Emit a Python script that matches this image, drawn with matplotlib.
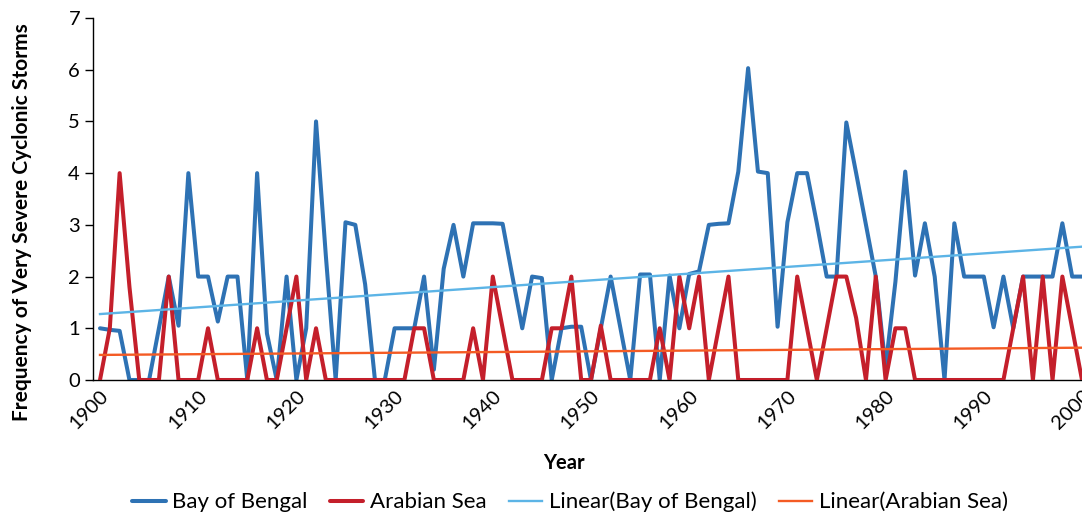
import numpy as np
import matplotlib
matplotlib.use("Agg")
import matplotlib.pyplot as plt

plt.rcParams["font.family"] = ["Lato", "DejaVu Sans"]

years = list(range(1900, 2001))

bay_of_bengal = [
    1.0, 0.97, 0.95, 0, 0, 0, 1.0, 2.0, 1.05, 4.0,
    2.0, 2.0, 1.13, 2.0, 2.0, 0, 4.0, 0.9, 0, 2.0,
    0, 1.0, 5.0, 2.4, 0, 3.05, 3.0, 1.85, 0, 0,
    1.0, 1.0, 1.0, 2.0, 0.2, 2.15, 3.0, 2.0, 3.03, 3.03,
    3.03, 3.02, 2.0, 1.0, 2.0, 1.97, 0, 1.0, 1.03, 1.03,
    0, 1.0, 2.0, 1.0, 0, 2.04, 2.04, 0, 2.02, 1.0,
    2.05, 2.1, 3.0, 3.02, 3.03, 4.03, 6.03, 4.03, 4.0, 1.03,
    3.05, 4.0, 4.0, 3.03, 2.0, 2.0, 4.98, 4.0, 3.0, 2.0,
    0.25, 1.9, 4.03, 2.02, 3.03, 2.0, 0, 3.03, 2.0, 2.0,
    2.0, 1.02, 2.0, 1.0, 2.0, 2.0, 2.0, 2.0, 3.03, 2.0,
    2.0,
]

arabian_sea = [
    0, 1, 4, 1.8, 0, 0, 0, 2, 0, 0,
    0, 1, 0, 0, 0, 0, 1, 0, 0, 1,
    2, 0, 1, 0, 0, 0, 0, 0, 0, 0,
    0, 0, 1, 1, 0, 0, 0, 0, 1, 0,
    2, 1, 0, 0, 0, 0, 1, 1, 2, 0,
    0, 1.05, 0, 0, 0, 0, 0, 1, 0, 2,
    1, 2, 0, 1, 2, 0, 0, 0, 0, 0,
    0, 2, 1, 0, 1, 2, 2, 1.2, 0, 2,
    0, 1, 1, 0, 0, 0, 0, 0, 0, 0,
    0, 0, 0, 1, 2, 0, 2, 0, 2, 1,
    0,
]

series_labels = ["Bay of Bengal", "Arabian Sea",
                 "Linear(Bay of Bengal)", "Linear(Arabian Sea)"]
x_tick_years = list(range(1900, 2001, 10))
y_ticks = list(range(0, 8))

c_bay = "#2E72B4"
c_arab = "#C41F2B"
c_bay_trend = "#5CB4E6"
c_arab_trend = "#F45B24"

x = np.array(years, dtype=float)
bay = np.array(bay_of_bengal)
arab = np.array(arabian_sea)

# least-squares linear trends
bay_fit = np.polyval(np.polyfit(x, bay, 1), x)
arab_fit = np.polyval(np.polyfit(x, arab, 1), x)

W, H = 1082, 514
fig = plt.figure(figsize=(W / 100, H / 100), dpi=100)
ax_left, ax_right, ax_top, ax_bottom = 92.5, 1082, 18, 380
ax = fig.add_axes([ax_left / W, (H - ax_bottom) / H,
                   (ax_right - ax_left) / W, (ax_bottom - ax_top) / H])

lw = 2.9
l1, = ax.plot(x, bay, color=c_bay, lw=lw, solid_joinstyle="round",
              solid_capstyle="round", zorder=2)
l2, = ax.plot(x, arab, color=c_arab, lw=lw, solid_joinstyle="round",
              solid_capstyle="round", zorder=3)
l3, = ax.plot(x, bay_fit, color=c_bay_trend, lw=1.7, zorder=4)
l4, = ax.plot(x, arab_fit, color=c_arab_trend, lw=1.7, zorder=5)

px_per_year = 9.83
ax.set_xlim(1900 - (100 - ax_left) / px_per_year,
            1900 + (ax_right - 100) / px_per_year)
ax.set_ylim(0, 7)

ax.set_xticks(x_tick_years)
ax.set_xticklabels([str(v) for v in x_tick_years], rotation=45,
                   ha="right", va="top", rotation_mode="anchor")
ax.set_yticks(y_ticks)
ax.set_yticklabels([str(v) for v in y_ticks])
ax.tick_params(axis="x", length=0, pad=5, labelsize=14.5)
ax.tick_params(axis="y", length=6, width=1, direction="out", pad=3,
               labelsize=14.5)

for s in ["top", "right"]:
    ax.spines[s].set_visible(False)
for s in ["left", "bottom"]:
    ax.spines[s].set_color("black")
    ax.spines[s].set_linewidth(1.0)

fig.text(22 / W, 1 - 222 / H, "Frequency of Very Severe Cyclonic Storms",
         rotation=90, ha="center", va="center", fontsize=15,
         fontweight="bold")
fig.text(564 / W, 1 - 463 / H, "Year", ha="center", va="center",
         fontsize=14.5, fontweight="bold")

fig.legend([l1, l2, l3, l4], series_labels, loc="center",
           bbox_to_anchor=(570 / W, 1 - 502 / H), ncol=4, frameon=False,
           fontsize=16, handlelength=1.5, handletextpad=0.3,
           columnspacing=1.0, borderaxespad=0)

fig.savefig("out.png", dpi=100)
